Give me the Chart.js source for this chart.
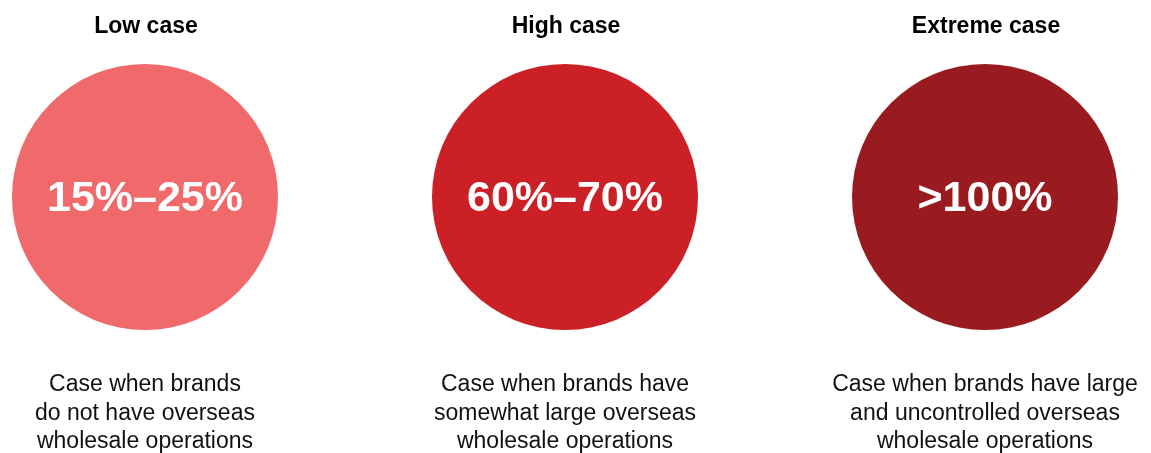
<!doctype html>
<html lang="en">
<head>
<meta charset="utf-8">
<title>Wholesale exposure cases</title>
<style>
  * { box-sizing: border-box; margin: 0; padding: 0; }
  html, body { background: #fff; }
  .cw { position: relative; width: 1151px; height: 453px; }
</style>
</head>
<body>
<div class="cw"><canvas id="cases"></canvas></div>
<script src="https://cdn.jsdelivr.net/npm/chart.js@4.4.1/dist/chart.umd.min.js"></script>
<script>
  const cases = ["Low case", "High case", "Extreme case"];
  const ranges = ["15%\u201325%", "60%\u201370%", ">100%"];
  const notes = [
    ["Case when brands", "do not have overseas", "wholesale operations"],
    ["Case when brands have", "somewhat large overseas", "wholesale operations"],
    ["Case when brands have large", "and uncontrolled overseas", "wholesale operations"],
  ];
  const fills = ["#f0696b", "#cc2027", "#9a1b1f"];

  const font = '"Liberation Sans", Arial, Helvetica, sans-serif';

  // titles above, range inside and notes below each circle
  const caseText = {
    id: "caseText",
    afterDatasetsDraw(chart) {
      const ctx = chart.ctx;
      const pts = chart.getDatasetMeta(0).data;
      ctx.save();
      ctx.textAlign = "center";
      ctx.textBaseline = "alphabetic";
      pts.forEach((p, i) => {
        ctx.fillStyle = "#000";
        ctx.font = "bold 23px " + font;
        ctx.fillText(cases[i], p.x + 1, p.y - 164);

        ctx.fillStyle = "#fff";
        ctx.font = "bold 43px " + font;
        ctx.fillText(ranges[i], p.x, p.y + 14);

        ctx.fillStyle = "#111";
        ctx.font = "23px " + font;
        notes[i].forEach((ln, j) => ctx.fillText(ln, p.x, p.y + 194 + j * 28.5));
      });
      ctx.restore();
    }
  };

  new Chart(document.getElementById("cases"), {
    type: "scatter",
    data: {
      labels: cases,
      datasets: [{
        data: cases.map((c, i) => ({ x: i, y: 0 })),
        backgroundColor: fills,
        borderWidth: 0,
        pointRadius: 133,
        pointHoverRadius: 133,
        clip: false
      }]
    },
    options: {
      responsive: true, maintainAspectRatio: false, animation: false,
      events: [],
      layout: { autoPadding: false, padding: { top: 0, right: 0, bottom: 59, left: 0 } },
      scales: {
        x: { type: "linear", min: -0.3452, max: 2.3952, display: false },
        y: { type: "linear", min: -1, max: 1, display: false }
      },
      plugins: { legend: { display: false }, tooltip: { enabled: false } }
    },
    plugins: [caseText]
  });
</script>
</body>
</html>
